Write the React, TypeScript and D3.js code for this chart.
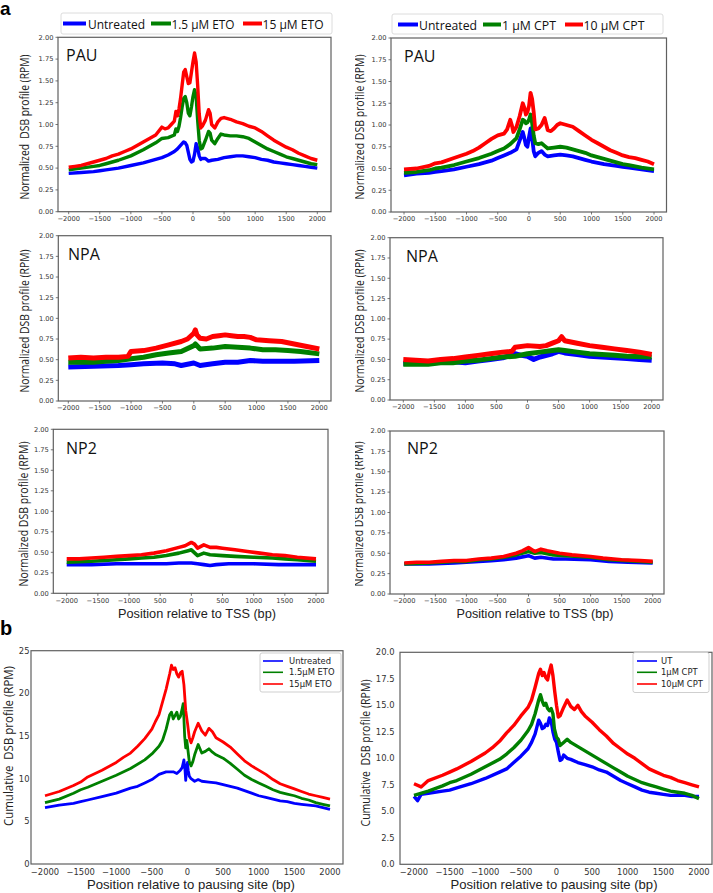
import React from 'react';
import * as d3 from 'd3';

type Pt = [number, number];

// ---------- tick values / labels ----------
const X_TICKS = [-2000, -1500, -1000, -500, 0, 500, 1000, 1500, 2000];
const X_LABELS_STD = ['−2000', '−1500', '−1000', '−500', '0', '500', '1000', '1500', '2000'];
const X_LABELS_NPA_CPT = ['−2000', '−1500', '1000', '500', '0', '500', '1000', '1500', '2000'];
const X_LABELS_NP2_ETO = ['−2000', '−1500', '−1000', '500', '0', '500', '1000', '1500', '2000'];
const Y_TICKS_A = [0, 0.25, 0.5, 0.75, 1.0, 1.25, 1.5, 1.75, 2.0];
const Y_TICKS_B_ETO = [0, 5, 10, 15, 20, 25];
const Y_TICKS_B_CPT = [0, 2.5, 5, 7.5, 10, 12.5, 15, 17.5, 20];

const LEGEND_ETO_A = ['Untreated', '1.5 µM ETO', '15 µM ETO'];
const LEGEND_CPT_A = ['Untreated', '1 µM CPT', '10 µM CPT'];
const LEGEND_ETO_B = ['Untreated', '1.5µM ETO', '15µM ETO'];
const LEGEND_CPT_B = ['UT', '1µM CPT', '10µM CPT'];
const COLORS = ['#0000ff', '#008000', '#ff0000'];

// ---------- series: [position (bp), value] ----------
const PAU_ETO_BLUE: Pt[] = [[-2000,0.44],[-1800,0.45],[-1600,0.46],[-1500,0.47],[-1400,0.48],[-1200,0.50],[-1000,0.53],[-800,0.56],[-600,0.60],[-500,0.62],[-400,0.65],[-300,0.69],[-250,0.72],[-200,0.76],[-150,0.80],[-125,0.79],[-100,0.76],[-75,0.68],[-50,0.60],[-25,0.57],[0,0.58],[25,0.66],[50,0.78],[75,0.73],[100,0.64],[125,0.60],[150,0.61],[200,0.61],[250,0.58],[300,0.59],[400,0.60],[500,0.62],[600,0.63],[700,0.64],[800,0.64],[900,0.63],[1000,0.62],[1100,0.60],[1200,0.59],[1300,0.57],[1400,0.56],[1500,0.55],[1600,0.54],[1700,0.53],[1800,0.52],[1900,0.51],[2000,0.50]];
const PAU_ETO_GREEN: Pt[] = [[-2000,0.48],[-1800,0.50],[-1600,0.52],[-1500,0.53],[-1400,0.55],[-1200,0.59],[-1000,0.64],[-800,0.71],[-600,0.79],[-500,0.84],[-400,0.85],[-300,0.88],[-275,0.95],[-250,0.92],[-225,0.98],[-200,1.08],[-175,1.20],[-150,1.30],[-125,1.32],[-100,1.25],[-75,1.13],[-50,1.10],[-25,1.20],[0,1.32],[25,1.40],[50,1.33],[75,1.05],[100,0.82],[125,0.72],[150,0.73],[200,0.82],[250,0.92],[275,0.90],[300,0.82],[350,0.78],[400,0.84],[450,0.89],[500,0.88],[600,0.87],[700,0.87],[800,0.86],[900,0.84],[1000,0.80],[1100,0.76],[1200,0.72],[1300,0.69],[1400,0.66],[1500,0.63],[1600,0.61],[1700,0.59],[1800,0.57],[1900,0.55],[2000,0.54]];
const PAU_ETO_RED: Pt[] = [[-2000,0.51],[-1900,0.52],[-1800,0.53],[-1700,0.55],[-1600,0.57],[-1500,0.59],[-1400,0.61],[-1300,0.64],[-1200,0.66],[-1100,0.69],[-1000,0.72],[-900,0.76],[-800,0.80],[-700,0.84],[-600,0.88],[-500,0.97],[-450,0.95],[-400,0.96],[-350,1.00],[-300,1.04],[-275,1.15],[-250,1.10],[-225,1.18],[-200,1.30],[-175,1.45],[-150,1.60],[-125,1.63],[-100,1.55],[-75,1.47],[-50,1.48],[-25,1.60],[0,1.72],[25,1.82],[50,1.72],[75,1.45],[100,1.12],[125,0.96],[150,0.98],[200,1.05],[250,1.17],[275,1.13],[300,1.00],[350,0.96],[400,1.03],[450,1.07],[500,1.08],[600,1.06],[700,1.03],[800,1.01],[900,0.98],[1000,0.96],[1100,0.92],[1200,0.87],[1300,0.82],[1400,0.78],[1500,0.74],[1600,0.71],[1700,0.67],[1800,0.64],[1900,0.61],[2000,0.59]];

const PAU_CPT_BLUE: Pt[] = [[-2000,0.42],[-1800,0.44],[-1600,0.45],[-1500,0.46],[-1400,0.47],[-1200,0.49],[-1000,0.52],[-800,0.55],[-600,0.59],[-500,0.62],[-400,0.65],[-300,0.68],[-200,0.72],[-150,0.82],[-100,0.92],[-75,0.85],[-50,0.77],[-25,0.75],[0,0.86],[25,0.96],[50,0.85],[75,0.70],[100,0.64],[150,0.68],[200,0.70],[250,0.66],[300,0.64],[400,0.65],[500,0.66],[600,0.65],[700,0.64],[800,0.62],[900,0.60],[1000,0.58],[1200,0.55],[1400,0.53],[1500,0.52],[1600,0.51],[1800,0.49],[2000,0.47]];
const PAU_CPT_GREEN: Pt[] = [[-2000,0.45],[-1800,0.46],[-1600,0.48],[-1500,0.50],[-1400,0.51],[-1200,0.54],[-1000,0.58],[-800,0.62],[-600,0.67],[-500,0.70],[-400,0.73],[-300,0.78],[-200,0.85],[-150,0.95],[-100,1.06],[-75,1.05],[-50,1.02],[-25,1.03],[0,1.06],[25,1.12],[50,1.02],[75,0.88],[100,0.79],[150,0.78],[200,0.79],[250,0.76],[300,0.73],[400,0.74],[500,0.75],[600,0.74],[700,0.72],[800,0.70],[900,0.68],[1000,0.65],[1200,0.61],[1400,0.57],[1500,0.55],[1600,0.54],[1800,0.51],[2000,0.49]];
const PAU_CPT_RED: Pt[] = [[-2000,0.49],[-1800,0.50],[-1600,0.53],[-1500,0.56],[-1400,0.57],[-1200,0.62],[-1000,0.67],[-900,0.70],[-800,0.74],[-700,0.79],[-600,0.84],[-500,0.88],[-400,0.90],[-350,0.95],[-300,1.06],[-275,1.00],[-250,0.92],[-200,0.98],[-150,1.10],[-100,1.25],[-75,1.20],[-50,1.12],[-25,1.15],[0,1.22],[25,1.37],[50,1.30],[75,1.15],[100,0.95],[150,0.96],[200,1.00],[250,1.08],[300,0.94],[350,0.93],[400,0.96],[450,1.00],[500,1.02],[600,1.00],[700,0.98],[800,0.93],[900,0.88],[1000,0.83],[1100,0.79],[1200,0.75],[1300,0.71],[1400,0.68],[1500,0.65],[1600,0.63],[1700,0.62],[1800,0.60],[1900,0.58],[2000,0.55]];

const NPA_ETO_BLUE: Pt[] = [[-2000,0.41],[-1600,0.42],[-1200,0.43],[-1000,0.44],[-800,0.45],[-500,0.46],[-300,0.45],[-200,0.43],[0,0.46],[100,0.43],[300,0.45],[500,0.47],[700,0.47],[900,0.49],[1100,0.48],[1300,0.48],[1600,0.48],[2000,0.49]];
const NPA_ETO_GREEN: Pt[] = [[-2000,0.47],[-1800,0.47],[-1600,0.47],[-1400,0.48],[-1200,0.49],[-1000,0.51],[-800,0.53],[-600,0.56],[-400,0.58],[-200,0.60],[0,0.67],[25,0.69],[100,0.63],[300,0.64],[500,0.66],[700,0.65],[900,0.64],[1100,0.62],[1300,0.62],[1500,0.61],[1700,0.60],[2000,0.57]];
const NPA_ETO_RED: Pt[] = [[-2000,0.52],[-1800,0.53],[-1600,0.52],[-1400,0.53],[-1200,0.53],[-1050,0.54],[-1000,0.60],[-800,0.61],[-600,0.64],[-400,0.68],[-200,0.72],[-100,0.75],[0,0.82],[25,0.86],[50,0.80],[100,0.76],[200,0.75],[300,0.78],[400,0.79],[500,0.80],[600,0.79],[700,0.78],[800,0.78],[900,0.77],[1000,0.74],[1200,0.73],[1400,0.72],[1600,0.69],[1800,0.66],[2000,0.63]];

const NPA_CPT_BLUE: Pt[] = [[-2000,0.45],[-1800,0.46],[-1600,0.47],[-1400,0.49],[-1200,0.47],[-1000,0.46],[-800,0.48],[-600,0.50],[-400,0.52],[-200,0.57],[-100,0.55],[0,0.54],[100,0.50],[200,0.53],[400,0.57],[500,0.60],[600,0.58],[800,0.56],[1000,0.54],[1200,0.53],[1400,0.52],[1600,0.51],[1800,0.50],[2000,0.49]];
const NPA_CPT_GREEN: Pt[] = [[-2000,0.44],[-1800,0.44],[-1600,0.44],[-1400,0.46],[-1200,0.46],[-1000,0.48],[-800,0.49],[-600,0.51],[-400,0.53],[-200,0.54],[0,0.57],[200,0.59],[400,0.61],[500,0.62],[600,0.61],[800,0.59],[1000,0.57],[1200,0.56],[1400,0.55],[1600,0.54],[2000,0.53]];
const NPA_CPT_RED: Pt[] = [[-2000,0.50],[-1800,0.49],[-1600,0.48],[-1400,0.50],[-1200,0.51],[-1000,0.53],[-800,0.55],[-600,0.57],[-400,0.59],[-250,0.60],[-200,0.65],[0,0.67],[200,0.66],[300,0.67],[400,0.70],[500,0.73],[550,0.78],[600,0.73],[800,0.70],[1000,0.67],[1200,0.65],[1400,0.63],[1600,0.61],[1800,0.59],[2000,0.56]];

const NP2_ETO_BLUE: Pt[] = [[-2000,0.35],[-1600,0.35],[-1200,0.36],[-800,0.36],[-400,0.36],[-200,0.37],[0,0.37],[100,0.36],[200,0.35],[300,0.34],[400,0.35],[600,0.36],[1000,0.36],[1400,0.35],[2000,0.35]];
const NP2_ETO_GREEN: Pt[] = [[-2000,0.38],[-1600,0.39],[-1200,0.41],[-1000,0.42],[-800,0.43],[-600,0.44],[-400,0.46],[-200,0.49],[-50,0.52],[0,0.53],[100,0.46],[200,0.49],[300,0.47],[500,0.46],[700,0.45],[1000,0.44],[1300,0.43],[1500,0.42],[1700,0.41],[2000,0.39]];
const NP2_ETO_RED: Pt[] = [[-2000,0.42],[-1800,0.42],[-1600,0.43],[-1400,0.44],[-1200,0.45],[-1000,0.46],[-800,0.47],[-600,0.49],[-400,0.52],[-200,0.56],[-100,0.58],[0,0.62],[50,0.60],[100,0.55],[200,0.59],[300,0.56],[400,0.56],[500,0.55],[700,0.53],[900,0.51],[1100,0.49],[1300,0.47],[1500,0.46],[1700,0.44],[2000,0.42]];

const NP2_CPT_BLUE: Pt[] = [[-2000,0.37],[-1600,0.37],[-1200,0.38],[-1000,0.39],[-800,0.40],[-600,0.41],[-400,0.42],[-200,0.44],[0,0.47],[100,0.44],[200,0.45],[400,0.43],[600,0.43],[1000,0.42],[1300,0.40],[1600,0.39],[2000,0.38]];
const NP2_CPT_GREEN: Pt[] = [[-2000,0.37],[-1600,0.38],[-1200,0.40],[-1000,0.40],[-800,0.42],[-600,0.43],[-400,0.45],[-200,0.48],[0,0.52],[100,0.50],[200,0.51],[400,0.48],[600,0.47],[1000,0.45],[1300,0.42],[1600,0.41],[2000,0.39]];
const NP2_CPT_RED: Pt[] = [[-2000,0.38],[-1800,0.39],[-1600,0.39],[-1400,0.40],[-1200,0.41],[-1000,0.41],[-800,0.43],[-600,0.44],[-400,0.46],[-200,0.50],[-100,0.53],[0,0.57],[100,0.52],[200,0.55],[300,0.53],[500,0.50],[700,0.48],[1000,0.46],[1200,0.44],[1500,0.42],[1800,0.41],[2000,0.40]];

const CUM_ETO_BLUE: Pt[] = [[-2000,6.6],[-1800,6.9],[-1600,7.1],[-1500,7.3],[-1400,7.5],[-1200,7.9],[-1000,8.3],[-800,8.9],[-700,9.1],[-600,9.5],[-500,9.9],[-400,10.5],[-300,10.8],[-200,10.8],[-150,10.6],[-100,11.0],[-75,11.3],[-50,12.2],[-35,11.0],[-25,9.8],[-10,11.3],[0,11.9],[10,11.0],[25,10.3],[50,10.0],[100,9.7],[150,9.9],[200,9.7],[300,9.6],[400,9.5],[500,9.3],[600,9.1],[700,8.9],[800,8.6],[900,8.3],[1000,8.0],[1100,7.8],[1200,7.6],[1300,7.4],[1400,7.3],[1500,7.1],[1600,7.0],[1700,6.9],[1800,6.8],[1900,6.6],[2000,6.4]];
const CUM_ETO_GREEN: Pt[] = [[-2000,7.2],[-1800,7.6],[-1600,8.3],[-1500,8.7],[-1400,9.0],[-1200,9.7],[-1000,10.4],[-800,11.2],[-600,12.2],[-500,12.9],[-400,13.8],[-350,14.5],[-300,15.8],[-250,17.5],[-225,17.8],[-200,17.0],[-175,17.4],[-150,17.8],[-125,17.0],[-100,17.3],[-75,18.2],[-60,18.8],[-50,17.0],[-40,15.0],[-25,13.6],[-10,14.5],[0,13.8],[25,12.0],[50,11.5],[75,12.0],[100,12.8],[150,14.0],[200,13.0],[250,13.2],[300,13.5],[350,13.1],[400,12.8],[500,12.4],[600,11.8],[700,11.1],[800,10.4],[900,9.9],[1000,9.5],[1100,9.1],[1200,8.7],[1300,8.4],[1400,8.2],[1500,8.0],[1600,7.7],[1700,7.5],[1800,7.2],[1900,7.0],[2000,6.8]];
const CUM_ETO_RED: Pt[] = [[-2000,8.0],[-1800,8.5],[-1600,9.2],[-1500,9.6],[-1400,10.2],[-1200,11.0],[-1000,11.9],[-900,12.5],[-800,13.0],[-700,13.8],[-600,14.7],[-500,15.8],[-450,16.7],[-400,17.5],[-350,19.0],[-300,20.5],[-250,22.3],[-225,23.3],[-200,22.8],[-175,23.0],[-150,22.3],[-125,21.9],[-100,22.4],[-75,22.6],[-50,21.0],[-25,18.0],[0,16.5],[25,14.8],[50,14.2],[75,14.8],[100,15.5],[150,16.5],[200,15.6],[250,15.1],[300,15.9],[350,15.5],[400,14.8],[500,14.3],[600,13.7],[700,12.9],[800,12.1],[900,11.5],[1000,11.0],[1100,10.5],[1200,9.9],[1300,9.4],[1400,9.1],[1500,8.8],[1600,8.5],[1700,8.2],[1800,8.0],[1900,7.8],[2000,7.6]];

const CUM_CPT_BLUE: Pt[] = [[-2000,6.4],[-1950,6.0],[-1900,6.6],[-1800,6.7],[-1600,6.9],[-1500,7.0],[-1400,7.2],[-1200,7.6],[-1000,8.1],[-800,8.7],[-700,9.0],[-600,9.6],[-500,10.2],[-400,10.9],[-350,11.5],[-300,12.3],[-250,13.6],[-225,13.3],[-200,12.8],[-175,12.9],[-150,13.2],[-125,13.1],[-100,13.8],[-75,13.5],[-50,12.5],[-25,11.8],[0,11.5],[25,10.6],[50,9.8],[75,9.9],[100,10.3],[150,10.0],[200,9.9],[300,9.6],[400,9.4],[500,9.2],[600,8.9],[700,8.7],[800,8.3],[900,7.9],[1000,7.6],[1100,7.3],[1200,7.0],[1300,6.8],[1400,6.7],[1500,6.6],[1600,6.5],[1700,6.5],[1800,6.5],[1900,6.4],[2000,6.4]];
const CUM_CPT_GREEN: Pt[] = [[-2000,6.5],[-1800,6.9],[-1600,7.4],[-1500,7.7],[-1400,7.9],[-1200,8.5],[-1000,9.2],[-800,9.9],[-700,10.4],[-600,11.0],[-500,11.7],[-400,12.6],[-350,13.2],[-300,14.2],[-250,15.5],[-225,16.0],[-200,15.4],[-175,15.0],[-150,15.2],[-125,14.7],[-100,14.5],[-75,14.7],[-50,14.2],[-30,12.8],[0,12.0],[25,11.8],[50,11.2],[100,11.5],[150,11.8],[200,11.5],[300,11.1],[400,10.7],[500,10.3],[600,9.9],[700,9.5],[800,9.1],[900,8.7],[1000,8.3],[1100,8.0],[1200,7.7],[1300,7.5],[1400,7.3],[1500,7.1],[1600,6.9],[1700,6.8],[1800,6.7],[1900,6.5],[2000,6.2]];
const CUM_CPT_RED: Pt[] = [[-2000,7.6],[-1900,7.3],[-1800,7.9],[-1600,8.4],[-1500,8.7],[-1400,9.0],[-1200,9.7],[-1000,10.5],[-900,11.0],[-800,11.6],[-700,12.4],[-600,13.1],[-500,14.0],[-400,14.8],[-350,15.5],[-300,16.7],[-250,18.0],[-225,18.4],[-200,17.8],[-175,18.1],[-150,17.6],[-125,17.4],[-100,18.2],[-75,18.8],[-50,17.8],[-25,16.3],[0,15.0],[25,13.9],[50,14.0],[100,14.8],[150,15.5],[200,14.9],[250,14.6],[300,15.0],[350,14.4],[400,14.0],[500,13.4],[600,12.7],[700,12.1],[800,11.4],[900,10.9],[1000,10.4],[1100,10.0],[1200,9.5],[1300,9.0],[1400,8.7],[1500,8.4],[1600,8.2],[1700,7.9],[1800,7.7],[1900,7.5],[2000,7.3]];

// ---------- layout ----------
type PanelCfg = {
  frame: [number, number, number, number]; // left, right, top, bottom
  xr: [number, number];
  yDomain: [number, number];
  yTicks: number[];
  yFmt: (v: number) => string;
  xLabels: string[];
  series: Pt[][];
  name?: string;
  namePos?: [number, number];
  small: boolean;
  sw: number;
};

const fmt2 = d3.format('.2f');
const fmt1 = d3.format('.1f');
const fmt0 = d3.format('d');

const PANELS: PanelCfg[] = [
  { frame: [58, 331, 37.3, 211.7], xr: [68.7, 317.3], yDomain: [0, 2], yTicks: Y_TICKS_A, yFmt: fmt2, xLabels: X_LABELS_STD, series: [PAU_ETO_BLUE, PAU_ETO_GREEN, PAU_ETO_RED], name: 'PAU', namePos: [66, 61], small: true, sw: 3.4 },
  { frame: [391, 666.5, 38, 212], xr: [404, 654], yDomain: [0, 2], yTicks: Y_TICKS_A, yFmt: fmt2, xLabels: X_LABELS_STD, series: [PAU_CPT_BLUE, PAU_CPT_GREEN, PAU_CPT_RED], name: 'PAU', namePos: [404, 62], small: true, sw: 3.8 },
  { frame: [58.3, 331, 235.7, 401], xr: [68.3, 319.3], yDomain: [0, 2], yTicks: Y_TICKS_A, yFmt: fmt2, xLabels: X_LABELS_STD, series: [NPA_ETO_BLUE, NPA_ETO_GREEN, NPA_ETO_RED], name: 'NPA', namePos: [68, 260], small: true, sw: 5 },
  { frame: [390, 663, 237.7, 400], xr: [403.3, 651.7], yDomain: [0, 2], yTicks: Y_TICKS_A, yFmt: fmt2, xLabels: X_LABELS_NPA_CPT, series: [NPA_CPT_BLUE, NPA_CPT_GREEN, NPA_CPT_RED], name: 'NPA', namePos: [406, 262], small: true, sw: 5 },
  { frame: [53.3, 328, 429.3, 593.3], xr: [66.7, 316], yDomain: [0, 2], yTicks: Y_TICKS_A, yFmt: fmt2, xLabels: X_LABELS_NP2_ETO, series: [NP2_ETO_BLUE, NP2_ETO_GREEN, NP2_ETO_RED], name: 'NP2', namePos: [66, 454], small: true, sw: 3.6 },
  { frame: [390, 664, 431, 594], xr: [404.3, 652.7], yDomain: [0, 2], yTicks: Y_TICKS_A, yFmt: fmt2, xLabels: X_LABELS_STD, series: [NP2_CPT_BLUE, NP2_CPT_GREEN, NP2_CPT_RED], name: 'NP2', namePos: [407, 454], small: true, sw: 3.6 },
  { frame: [31, 343, 650.7, 864], xr: [45, 330], yDomain: [0, 25], yTicks: Y_TICKS_B_ETO, yFmt: fmt0, xLabels: X_LABELS_STD, series: [CUM_ETO_BLUE, CUM_ETO_GREEN, CUM_ETO_RED], small: false, sw: 2.8 },
  { frame: [400, 712, 652.3, 864.3], xr: [414, 699], yDomain: [0, 20], yTicks: Y_TICKS_B_CPT, yFmt: fmt1, xLabels: X_LABELS_STD, series: [CUM_CPT_BLUE, CUM_CPT_GREEN, CUM_CPT_RED], small: false, sw: 3.4 },
];

const TICK_FONT = '"DejaVu Sans", sans-serif';
const LABEL_FONT = '"Open Sans", "Noto Sans", sans-serif';
const XLABEL_FONT = '"Liberation Sans", Arial, sans-serif';

function Panel({ cfg }: { cfg: PanelCfg }) {
  const [l, r, t, b] = cfg.frame;
  const x = d3.scaleLinear().domain([-2000, 2000]).range(cfg.xr);
  const y = d3.scaleLinear().domain(cfg.yDomain).range([b, t]);
  const line = d3.line<Pt>().x(d => x(d[0])).y(d => y(d[1])).curve(d3.curveLinear);
  const fs = cfg.small ? 6.7 : 8.4;
  const tickColor = '#555';
  return (
    <g>
      {cfg.series.map((s, i) => (
        <path key={i} d={line(s) || ''} fill="none" stroke={COLORS[i]} strokeWidth={cfg.sw} strokeLinejoin="round" />
      ))}
      <rect x={l} y={t} width={r - l} height={b - t} fill="none" stroke="#606060" strokeWidth={1.2} />
      {cfg.yTicks.map((v, i) => (
        <g key={'y' + i}>
          {cfg.small && <line x1={l - 2.5} x2={l} y1={y(v)} y2={y(v)} stroke={tickColor} strokeWidth={0.8} />}
          <text x={cfg.small ? l - 4.5 : (l < 100 ? l - 1.5 : l - 5.5)} y={y(v)} dy="0.35em" textAnchor="end" fontFamily={TICK_FONT} fontSize={fs} fill="#333">{cfg.yFmt(v)}</text>
        </g>
      ))}
      {X_TICKS.map((v, i) => (
        <g key={'x' + i}>
          {cfg.small && <line x1={x(v)} x2={x(v)} y1={b} y2={b + 2.5} stroke={tickColor} strokeWidth={0.8} />}
          <text x={x(v)} y={b + (cfg.small ? 9.3 : 10.8)} textAnchor="middle" fontFamily={TICK_FONT} fontSize={fs} fill="#333">{cfg.xLabels[i]}</text>
        </g>
      ))}
      {cfg.name && cfg.namePos && (
        <text x={cfg.namePos[0]} y={cfg.namePos[1]} fontFamily={LABEL_FONT} fontSize={16} fill="#111">{cfg.name}</text>
      )}
    </g>
  );
}

function YLabel({ cx, cy, text, len, size }: { cx: number; cy: number; text: string; len: number; size: number }) {
  return (
    <text transform={`translate(${cx},${cy}) rotate(-90)`} dy="0.36em" textAnchor="middle" fontFamily={LABEL_FONT}
      fontSize={size} fill="#222" textLength={len} lengthAdjust="spacingAndGlyphs" style={{ whiteSpace: 'pre' }}>{text}</text>
  );
}

function XLabel({ cx, y, text, len, size }: { cx: number; y: number; text: string; len: number; size: number }) {
  return (
    <text x={cx} y={y} textAnchor="middle" fontFamily={XLABEL_FONT} fontSize={size} fill="#222" textLength={len} lengthAdjust="spacingAndGlyphs">{text}</text>
  );
}

function LegendA({ box, items, entries }: { box: [number, number, number, number]; items: string[]; entries: [number, number, number, number][] }) {
  // entries: [lineX1, lineX2, textX, textLen]
  return (
    <g>
      <rect x={box[0]} y={box[1]} width={box[2]} height={box[3]} fill="#fff" stroke="#dcdcdc" strokeWidth={1} rx={2} />
      {items.map((s, i) => (
        <g key={i}>
          <line x1={entries[i][0]} x2={entries[i][1]} y1={box[1] + 10.5} y2={box[1] + 10.5} stroke={COLORS[i]} strokeWidth={4} />
          <text x={entries[i][2]} y={box[1] + 15.6} fontFamily={LABEL_FONT} fontSize={12.5} fill="#111" textLength={entries[i][3]} lengthAdjust="spacingAndGlyphs">{s}</text>
        </g>
      ))}
    </g>
  );
}

function LegendB({ box, items, lineX: lx, ys }: { box: [number, number, number, number]; items: string[]; lineX: [number, number, number]; ys: number[] }) {
  return (
    <g>
      <rect x={box[0]} y={box[1]} width={box[2]} height={box[3]} fill="#fff" stroke="#cfcfcf" strokeWidth={1} rx={2} />
      {items.map((s, i) => (
        <g key={i}>
          <line x1={lx[0]} x2={lx[1]} y1={ys[i]} y2={ys[i]} stroke={COLORS[i]} strokeWidth={1.6} />
          <text x={lx[2]} y={ys[i]} dy="0.35em" fontFamily={TICK_FONT} fontSize={8.4} fill="#222">{s}</text>
        </g>
      ))}
    </g>
  );
}

export default function App() {
  return (
    <svg width={713} height={893} style={{ position: 'absolute', left: 0, top: 0, background: '#fff' }}>
      <defs>
        <clipPath id="rightcol"><rect x={355} y={0} width={358} height={893} /></clipPath>
      </defs>
      <rect x={0} y={0} width={713} height={893} fill="#fff" />
      {PANELS.map((p, i) => <Panel key={i} cfg={p} />)}

      <LegendA box={[61, 13, 271, 21]} items={LEGEND_ETO_A}
        entries={[[63, 86, 88, 57], [151, 171, 171.5, 63], [243, 262, 262.5, 61]]} />
      <LegendA box={[392, 14, 271, 20]} items={LEGEND_CPT_A}
        entries={[[398, 418, 419, 58], [483, 501, 502, 54], [565, 583, 583.5, 61]]} />

      <LegendB box={[260, 653, 81, 39]} items={LEGEND_ETO_B} lineX={[263, 283, 289]} ys={[661, 672.3, 684]} />
      <LegendB box={[633, 652.5, 76, 40]} items={LEGEND_CPT_B} lineX={[637, 657, 661]} ys={[661, 672.3, 684]} />

      <YLabel cx={24} cy={127} text={'Normalized  DSB profile (RPM)'} len={145} size={12.5} />
      <YLabel cx={24} cy={321} text={'Normalized DSB profile (RPM)'} len={143} size={12.5} />
      <YLabel cx={23} cy={514} text={'Normalized DSB profile (RPM)'} len={145} size={12.5} />
      <g clipPath="url(#rightcol)">
        <YLabel cx={359} cy={127} text={'Normalized DSB profile (RPM)'} len={145} size={12.5} />
        <YLabel cx={359} cy={321} text={'Normalized DSB profile (RPM)'} len={143} size={12.5} />
        <YLabel cx={358} cy={514} text={'Normalized DSB profile (RPM)'} len={145} size={12.5} />
      </g>
      <YLabel cx={8} cy={746} text={'Cumulative  DSB profile (RPM)'} len={160} size={12.5} />
      <YLabel cx={365} cy={753} text={'Cumulative  DSB profile (RPM)'} len={147} size={12.5} />

      <XLabel cx={197} y={617.5} text="Position relative to TSS (bp)" len={158} size={13} />
      <XLabel cx={535} y={618} text="Position relative to TSS (bp)" len={157} size={13} />
      <XLabel cx={191} y={889} text="Position relative to pausing site (bp)" len={208} size={13} />
      <XLabel cx={554} y={889} text="Position relative to pausing site (bp)" len={207} size={13} />

      <text x={0} y={15} fontFamily='"Liberation Sans", Arial, sans-serif' fontWeight="bold" fontSize={19} fill="#000">a</text>
      <text x={0} y={635} fontFamily='"Liberation Sans", Arial, sans-serif' fontWeight="bold" fontSize={20} fill="#000">b</text>
    </svg>
  );
}
